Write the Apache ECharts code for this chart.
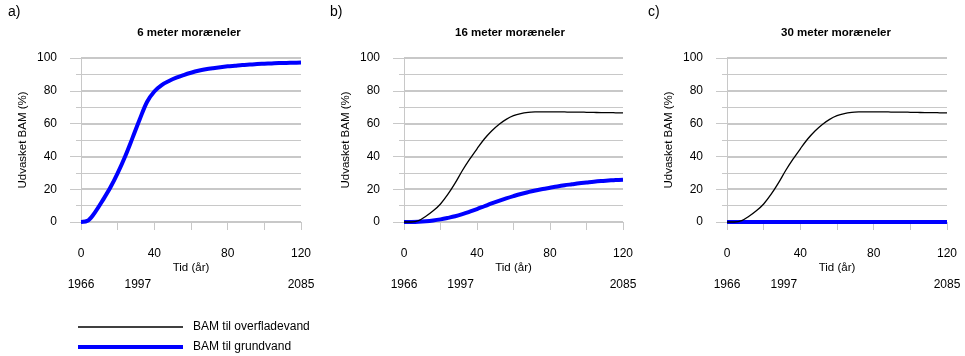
<!DOCTYPE html>
<html>
<head>
<meta charset="utf-8">
<script src="https://cdn.jsdelivr.net/npm/echarts@6/dist/echarts.min.js"></script>
<style>
html,body{margin:0;padding:0;background:#fff;}
#chart{width:965px;height:356px;}
</style>
</head>
<body>
<div id="chart"></div>
<script>
// ---- data ----
var tid = [0,4,8,12,16,20,24,28,32,36,40,44,48,52,56,60,64,68,72,76,80,84,88,92,96,100,104,108,112,116,120];
var grund6 = [0,1,6.5,13.5,21,29.8,39.8,51,62.5,73.2,79.6,83.5,86,88,89.6,91,92.2,93.1,93.8,94.4,94.9,95.3,95.7,96,96.3,96.5,96.7,96.9,97,97.1,97.2];
var overflade16 = [0,0,0.8,3.5,6.8,11,16.8,23.7,31.4,38.3,44.6,50.6,55.5,59.5,62.6,64.8,66.1,66.8,67.1,67.2,67.2,67.2,67.1,67,67,66.9,66.8,66.7,66.7,66.6,66.5];
var grund16 = [0,0,0.1,0.4,0.9,1.6,2.5,3.5,4.8,6.3,7.9,9.6,11.3,12.9,14.4,15.8,17.1,18.2,19.2,20.1,20.9,21.7,22.4,23,23.6,24.1,24.6,25,25.3,25.6,25.8];
var overflade30 = [0,0,0.8,3.5,6.8,11,16.8,23.7,31.4,38.3,44.6,50.6,55.5,59.5,62.6,64.8,66.1,66.8,67.1,67.2,67.2,67.2,67.1,67,67,66.9,66.8,66.7,66.7,66.6,66.5];
var grund30 = [0,0,0,0,0,0,0,0,0,0,0,0,0,0,0,0,0,0,0,0,0,0,0,0,0,0,0,0,0,0,0];
var panelLetters = ['a)','b)','c)'];
var panelTitles = ['6 meter moræneler','16 meter moræneler','30 meter moræneler'];
var yearPos = [0,31,120];
var yearLabels = ['1966','1997','2085'];
var xLabelTicks = [0,40,80,120];
var seriesNames = ['BAM til overfladevand','BAM til grundvand'];

function pairs(vals){ return tid.map(function(t,i){ return [t, vals[i]]; }); }

var FONT = 'Liberation Sans, Arial, sans-serif';
var GRID_GRAY = '#c8c8c8';
var grids = [
  {left:81, top:58, width:220, height:164},
  {left:404, top:58, width:219, height:164},
  {left:727, top:58, width:220, height:164}
];

var xAxes = [], yAxes = [];
grids.forEach(function(g, i){
  xAxes.push({
    type:'value', gridIndex:i, min:0, max:120, interval:20,
    name:'Tid (år)', nameLocation:'middle', nameGap:40,
    nameTextStyle:{fontFamily:FONT, fontSize:11.5, color:'#000'},
    axisLine:{show:true, lineStyle:{color:GRID_GRAY, width:1}},
    axisTick:{show:true, length:8, lineStyle:{color:GRID_GRAY, width:1}},
    axisLabel:{margin:26, fontFamily:FONT, fontSize:12, color:'#000',
      formatter:function(v){ return xLabelTicks.indexOf(v) >= 0 ? String(v) : ''; }},
    splitLine:{show:false}
  });
  yAxes.push({
    type:'value', gridIndex:i, min:0, max:100, interval:20,
    name:'Udvasket BAM (%)', nameLocation:'middle', nameGap:52,
    nameTextStyle:{fontFamily:FONT, fontSize:11.5, color:'#000'},
    axisLine:{show:true, lineStyle:{color:GRID_GRAY, width:1}},
    axisTick:{show:true, length:11, lineStyle:{color:GRID_GRAY, width:1}},
    minorTick:{show:true, splitNumber:2, length:5, lineStyle:{color:GRID_GRAY, width:1}},
    axisLabel:{margin:24, fontFamily:FONT, fontSize:12, color:'#000'},
    splitLine:{show:true, lineStyle:{color:GRID_GRAY, width:2}},
    minorSplitLine:{show:true, lineStyle:{color:GRID_GRAY, width:1}}
  });
});
grids.forEach(function(g, i){
  xAxes.push({
    type:'value', gridIndex:i, min:0, max:120, position:'bottom', offset:0,
    axisLine:{show:false}, axisTick:{show:false}, splitLine:{show:false},
    axisLabel:{margin:57, fontFamily:FONT, fontSize:12, color:'#000',
      customValues:yearPos,
      formatter:function(v){ var k = yearPos.indexOf(v); return k >= 0 ? yearLabels[k] : ''; }}
  });
});

function lineSeries(name, vals, idx){
  var blue = name === seriesNames[1];
  return {
    name:name, type:'line', xAxisIndex:idx, yAxisIndex:idx,
    data:pairs(vals), showSymbol:false, symbol:'none', smooth:0.35,
    color: blue ? '#0000ff' : '#000000',
    lineStyle:{color: blue ? '#0000ff' : '#000000', width: blue ? 4 : 1.3},
    z: blue ? 3 : 4, clip:false, silent:true, animation:false
  };
}

var series = [
  lineSeries(seriesNames[1], grund6, 0),
  lineSeries(seriesNames[1], grund16, 1),
  lineSeries(seriesNames[0], overflade16, 1),
  lineSeries(seriesNames[1], grund30, 2),
  lineSeries(seriesNames[0], overflade30, 2)
];

var graphics = [];
var letterX = [8, 330, 648];
var titleX = [189, 510, 836];
for (var i = 0; i < 3; i++){
  graphics.push({type:'text', left:letterX[i], top:5,
    style:{text:panelLetters[i], font:'14px ' + FONT, fill:'#000'}});
  graphics.push({type:'text', x:titleX[i], y:33,
    style:{text:panelTitles[i], font:'bold 11.5px ' + FONT, fill:'#000', textAlign:'center', textVerticalAlign:'middle'}});
}

var option = {
  animation:false,
  backgroundColor:'#fff',
  grid:grids,
  xAxis:xAxes,
  yAxis:yAxes,
  series:series,
  graphic:graphics,
  legend:[
    {data:[seriesNames[0]], left:78, top:321, padding:0, icon:'rect', itemWidth:105, itemHeight:1.5,
     selectedMode:false, textStyle:{fontFamily:FONT, fontSize:12, color:'#000', padding:[0,0,0,5]}},
    {data:[seriesNames[1]], left:78, top:341, padding:0, icon:'rect', itemWidth:105, itemHeight:4,
     selectedMode:false, textStyle:{fontFamily:FONT, fontSize:12, color:'#000', padding:[0,0,0,5]}}
  ]
};
var chart = echarts.init(document.getElementById('chart'), null, {renderer:'canvas'});
chart.setOption(option);
</script>
</body>
</html>
